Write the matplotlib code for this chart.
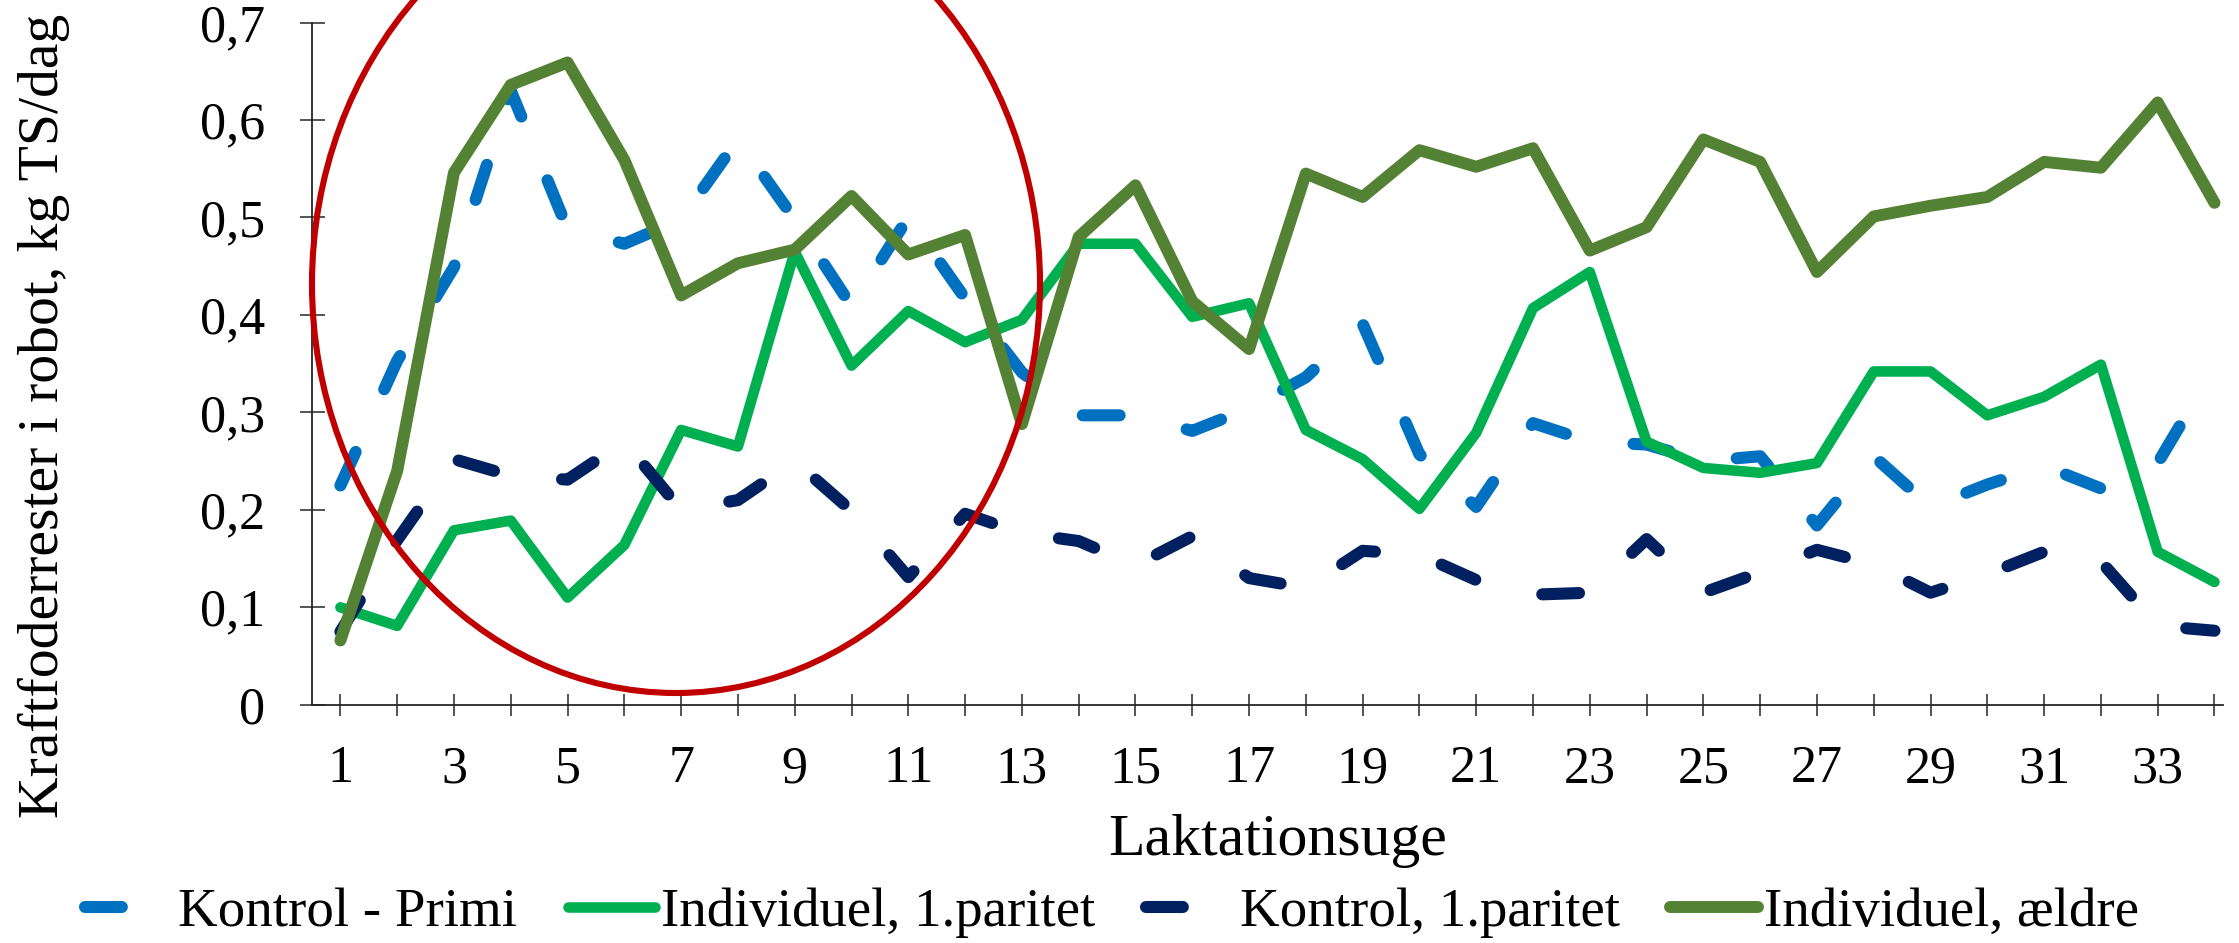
import matplotlib
matplotlib.use("Agg")
import matplotlib.pyplot as plt
from matplotlib.patches import Ellipse
from matplotlib.ticker import FixedLocator, FixedFormatter

plt.rcParams['font.family'] = ['Liberation Serif', 'DejaVu Serif']

weeks = list(range(1, 35))

kontrol_primi = [0.225, 0.353, 0.449, 0.630, 0.488, 0.473, 0.498, 0.580, 0.498, 0.409,
                 0.500, 0.417, 0.341, 0.297, 0.297, 0.281, 0.304, 0.336, 0.391, 0.257,
                 0.203, 0.289, 0.270, 0.267, 0.250, 0.255, 0.184, 0.255, 0.203, 0.226,
                 0.245, 0.222, 0.248, 0.346]
individuel_1par = [0.100, 0.081, 0.179, 0.189, 0.110, 0.164, 0.282, 0.265, 0.465, 0.348,
                   0.404, 0.372, 0.395, 0.473, 0.473, 0.398, 0.412, 0.282, 0.252, 0.201,
                   0.279, 0.407, 0.444, 0.270, 0.243, 0.238, 0.248, 0.342, 0.342, 0.297,
                   0.316, 0.349, 0.157, 0.126]
kontrol_1par = [0.075, 0.169, 0.252, 0.235, 0.231, 0.270, 0.200, 0.210, 0.250, 0.199,
                0.131, 0.196, 0.176, 0.168, 0.143, 0.173, 0.130, 0.120, 0.158, 0.154,
                0.128, 0.113, 0.115, 0.170, 0.115, 0.136, 0.159, 0.144, 0.115, 0.134,
                0.157, 0.147, 0.081, 0.076]
individuel_aeldre = [0.066, 0.240, 0.546, 0.636, 0.659, 0.559, 0.420, 0.453, 0.467, 0.522,
                     0.462, 0.482, 0.288, 0.480, 0.533, 0.414, 0.365, 0.545, 0.521, 0.569,
                     0.552, 0.571, 0.466, 0.490, 0.580, 0.557, 0.444, 0.501, 0.512, 0.521,
                     0.557, 0.551, 0.618, 0.515]

series_labels = ["Kontrol - Primi", "Individuel, 1.paritet",
                 "Kontrol, 1.paritet", "Individuel, ældre"]
y_ticks = [0, 0.1, 0.2, 0.3, 0.4, 0.5, 0.6, 0.7]
y_ticklabels = ["0", "0,1", "0,2", "0,3", "0,4", "0,5", "0,6", "0,7"]
x_major = list(range(1, 35, 2))
x_minor = list(range(2, 35, 2))
x_ticklabels = [str(w) for w in x_major]
x_title = "Laktationsuge"
y_title = "Kraftfoderrester i robot, kg TS/dag"

W, H = 2239, 943
fig = plt.figure(figsize=(W / 100, H / 100), dpi=100)
ax = fig.add_axes([312 / W, 1 - 704.8 / H, (2223 - 312) / W, (704.8 - 22.5) / H])

dash = (3.05, 5.7)
ax.plot(weeks, kontrol_primi, color='#0070C0', lw=8.7, ls=(0, dash),
        dash_capstyle='round', solid_joinstyle='round', label=series_labels[0], zorder=3)
ax.plot(weeks, individuel_1par, color='#00B050', lw=7.6, solid_capstyle='round',
        solid_joinstyle='round', label=series_labels[1], zorder=4)
ax.plot(weeks, kontrol_1par, color='#002060', lw=8.7, ls=(0, dash),
        dash_capstyle='round', solid_joinstyle='round', label=series_labels[2], zorder=5)
ax.plot(weeks, individuel_aeldre, color='#548235', lw=8.6, solid_capstyle='round',
        solid_joinstyle='round', label=series_labels[3], zorder=6)

ax.set_xlim(0.5, 34.15)
ax.set_ylim(0, 0.7)

for s in ['top', 'right']:
    ax.spines[s].set_visible(False)
for s in ['left', 'bottom']:
    ax.spines[s].set_linewidth(1.3)
    ax.spines[s].set_color('#262626')

ax.yaxis.set_major_locator(FixedLocator(y_ticks))
ax.yaxis.set_major_formatter(FixedFormatter(y_ticklabels))
ax.xaxis.set_major_locator(FixedLocator(x_major))
ax.xaxis.set_major_formatter(FixedFormatter(x_ticklabels))
ax.xaxis.set_minor_locator(FixedLocator(x_minor))

ax.tick_params(axis='y', which='major', direction='inout', length=18, width=1.1,
               pad=25, labelsize=37.5, color='#262626')
ax.tick_params(axis='x', which='both', direction='inout', length=16.5, width=1.1,
               color='#262626')
ax.tick_params(axis='x', which='major', pad=21, labelsize=37.5)

fig.text(1277.6 / W, 1 - 855.5 / H, x_title, ha='center', va='baseline', fontsize=43)
fig.text(44 / W, 1 - 416 / H, y_title, ha='center', va='center', rotation=90,
         fontsize=41.5)

leg = fig.legend(ncol=4, loc='center left', bbox_to_anchor=(84.5 / W, 1 - 913 / H),
                 frameon=False, fontsize=39.5, handlelength=1.6, handletextpad=0.11,
                 columnspacing=0.92, borderpad=0, borderaxespad=0)

ell = Ellipse((676 / W, 1 - 284 / H), 2 * 364 / W, 2 * 409 / H,
              transform=fig.transFigure, fill=False, edgecolor='#C00000', lw=4.4,
              zorder=10, clip_on=False)
fig.patches.append(ell)

fig.savefig('out.png', dpi=100)
